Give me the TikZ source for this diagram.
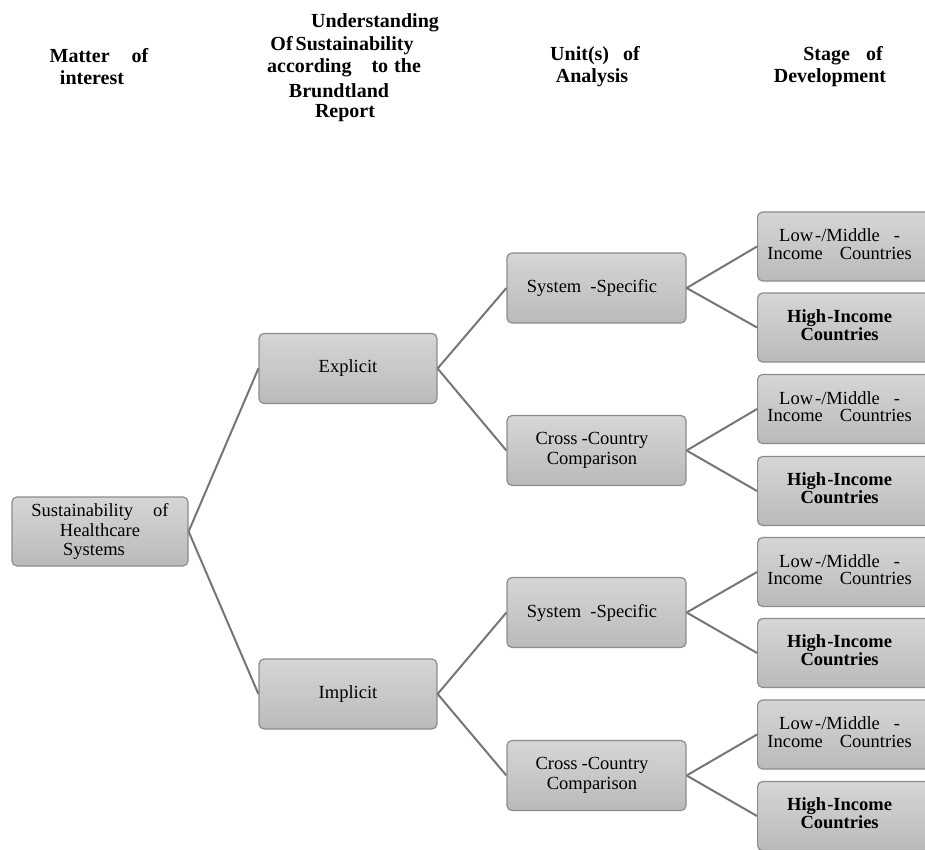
\documentclass[tikz,border=0pt]{standalone}
\usepackage{fontspec}
\setmainfont{Liberation Serif}
\definecolor{boxtop}{HTML}{D6D6D6}
\definecolor{boxbot}{HTML}{BABABA}
\definecolor{boxline}{HTML}{8C8C8C}
\definecolor{linkgray}{HTML}{767676}
\newcommand\rtxt[2]{\begin{tabular}{@{}c@{}}#1\\#2\end{tabular}\hspace*{16pt}}
\begin{document}
\begin{tikzpicture}[x=1pt,y=-1pt,
  box/.style={draw=boxline, line width=1.2pt, rounded corners=5pt,
    top color=boxtop, bottom color=boxbot, minimum width=178pt,
    minimum height=70pt, inner sep=0pt, align=center,
    font=\fontsize{18.5}{19.5}\selectfont},
  endbox/.style={box, anchor=west, minimum width=180pt, minimum height=69pt,
    font=\fontsize{18.5}{17.5}\selectfont},
  hd/.style={font=\bfseries\fontsize{20}{22}\selectfont, inner sep=0pt},
  link/.style={draw=linkgray, line width=2pt}]
\useasboundingbox (0,0) rectangle (925,850);
\fill[white] (0,0) rectangle (925,850);

% headers
\node[hd] (h1a) at (99,56) {Matter\hspace{22pt}of};
\node[hd] (h1b) at (92,78) {interest};
\node[hd] (h2a) at (375,23) {Understanding};
\node[hd] (h2b) at (342,46) {Of\hspace{3pt}Sustainability};
\node[hd] (h2c) at (344,68) {according\hspace{20pt}to\hspace{6pt}the};
\node[hd] (h2d) at (339,91) {Brundtland};
\node[hd] (h2e) at (345,113) {Report};
\node[hd] (h3a) at (595,56) {Unit(s)\hspace{14pt}of};
\node[hd] (h3b) at (592,78) {Analysis};
\node[hd] (h4a) at (843,56) {Stage\hspace{16pt}of};
\node[hd] (h4b) at (830,78) {Development};

% boxes
\node[box, minimum width=176pt, minimum height=69pt] (root) at (100,531.5)
  {Sustainability\hspace{20pt}of\\Healthcare\hspace*{24pt}\\Systems\hspace*{12pt}};
\node[box] (exp) at (348,368.5) {Explicit};
\node[box] (imp) at (348,694) {Implicit};

\node[box, minimum width=179pt] (ss1) at (596.5,288) {System\hspace{9pt}-Specific\hspace*{9pt}};
\node[box, minimum width=179pt] (cc1) at (596.5,450.5) {Cross\hspace{4pt}-Country\hspace*{9pt}\\Comparison\hspace*{9pt}};
\node[box, minimum width=179pt] (ss2) at (596.5,612.5) {System\hspace{9pt}-Specific\hspace*{9pt}};
\node[box, minimum width=179pt] (cc2) at (596.5,775.5) {Cross\hspace{4pt}-Country\hspace*{9pt}\\Comparison\hspace*{9pt}};

\node[endbox] (l1) at (757,246.5) {\rtxt{Low\hspace{2pt}-/Middle\hspace{14pt}-}{Income\hspace{17pt}Countries}};
\node[endbox] (hi1) at (757,327.5) {\rtxt{\bfseries High\hspace{1pt}-Income}{\bfseries Countries}};
\node[endbox] (l2) at (757,409) {\rtxt{Low\hspace{2pt}-/Middle\hspace{14pt}-}{Income\hspace{17pt}Countries}};
\node[endbox] (hi2) at (757,491) {\rtxt{\bfseries High\hspace{1pt}-Income}{\bfseries Countries}};
\node[endbox] (l3) at (757,572) {\rtxt{Low\hspace{2pt}-/Middle\hspace{14pt}-}{Income\hspace{17pt}Countries}};
\node[endbox] (hi3) at (757,653) {\rtxt{\bfseries High\hspace{1pt}-Income}{\bfseries Countries}};
\node[endbox] (l4) at (757,734.5) {\rtxt{Low\hspace{2pt}-/Middle\hspace{14pt}-}{Income\hspace{17pt}Countries}};
\node[endbox] (hi4) at (757,816) {\rtxt{\bfseries High\hspace{1pt}-Income}{\bfseries Countries}};

% connectors
\draw[link] (root.east) -- (exp.west);
\draw[link] (root.east) -- (imp.west);
\draw[link] (exp.east) -- (ss1.west);
\draw[link] (exp.east) -- (cc1.west);
\draw[link] (imp.east) -- (ss2.west);
\draw[link] (imp.east) -- (cc2.west);
\draw[link] (ss1.east) -- (l1.west);
\draw[link] (ss1.east) -- (hi1.west);
\draw[link] (cc1.east) -- (l2.west);
\draw[link] (cc1.east) -- (hi2.west);
\draw[link] (ss2.east) -- (l3.west);
\draw[link] (ss2.east) -- (hi3.west);
\draw[link] (cc2.east) -- (l4.west);
\draw[link] (cc2.east) -- (hi4.west);
\end{tikzpicture}
\end{document}
